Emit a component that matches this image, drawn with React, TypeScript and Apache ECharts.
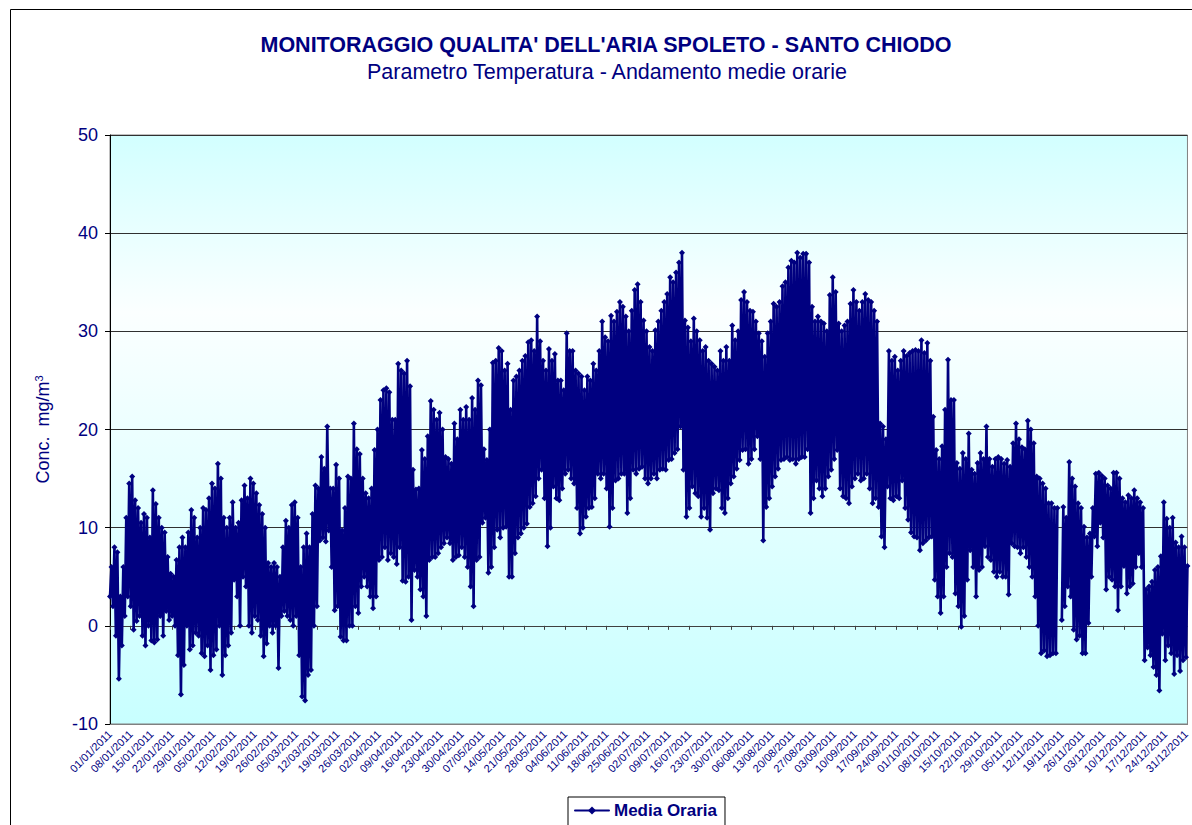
import React, { useEffect, useRef } from "react";
import * as echarts from "echarts";

// Daily minimum and maximum of the hourly temperature series (°C)
const DAILY_MAX: (number | null)[] = [
  6, 8, 7.5, 3, 6, 11, 14.5, 15.2, 12.8, 12,
  10.5, 11.4, 11, 9, 13.8, 12.4, 11, 10, 9.5, 7,
  5.3, 5, 6.7, 8, 9, 8, 9.5, 11.8, 11, 9,
  10, 12, 11.8, 13, 14.5, 14, 16.5, 15, 11, 10,
  11, 12.6, 10, 10.5, 12.8, 14.3, 13, 15, 14.5, 13.5,
  12.3, 11.4, 10, 6.4, 6, 6.4, 6, 5, 8, 10.7,
  10, 12.3, 12.6, 11, 6, 8, 9.4, 8, 11.4, 14.3,
  14, 17.2, 16, 20.3, 14, 14, 16.4, 15, 9.7, 12,
  15.2, 15, 20.6, 18, 17.5, 15, 13.5, 13, 14, 17.9,
  20, 23, 24, 24.2, 23.8, 21, 21, 26.7, 26, 25.7,
  27, 24.4, 15.9, 13.9, 14, 17.9, 17, 19.3, 22.9, 22,
  21, 21.7, 20, 17.2, 17, 16.5, 20.6, 19, 22, 21,
  22.3, 21, 23.2, 22, 25, 24.5, 18, 16.9, 20, 26.8,
  27, 28.3, 28, 26, 26.7, 22, 25, 25.4, 26, 27,
  27.5, 28.9, 29.1, 28, 31.5, 29, 27, 26, 28.2, 27,
  27.7, 25, 25, 24, 29.8, 28, 28, 26, 25.7, 25.4,
  24, 25.4, 25, 26.7, 26, 28, 31, 29.4, 29, 31.6,
  31, 32, 33, 32.5, 31.5, 30, 32.1, 34.2, 34.8, 33,
  31.1, 30, 28.4, 28, 30.1, 31, 32.1, 33, 33.8, 35.5,
  35, 36, 37, 38, 31.1, 30.4, 29, 31.3, 30, 29.1,
  28, 28.4, 27, 26.7, 26.4, 26, 28, 27, 28.4, 27,
  30.6, 29.1, 30, 33.2, 34, 33, 32.1, 32, 31, 29.8,
  29, 27.4, 29.8, 31, 32.8, 32.5, 33, 34.6, 35, 36.5,
  37.2, 37, 38, 37.5, 37.9, 37.9, 37, 32.5, 31, 31.5,
  31, 30.8, 30, 33.7, 35.5, 34, 30.8, 30, 30.6, 31,
  32.8, 34.2, 33, 32.1, 33, 33.8, 33.2, 33, 32.1, 31,
  20.6, 20.3, 19, 28, 27, 27.4, 26, 27, 28, 27.5,
  27.8, 28, 28.1, 28, 29.1, 27.8, 28.8, 27, 21.3, 17.9,
  17, 18.3, 22, 27.1, 23, 23, 16.6, 16, 17.6, 17,
  19.6, 15.9, 15.5, 16.6, 17.6, 17, 20.3, 17, 16.2, 17,
  17.2, 17, 16.5, 16.9, 16.2, 18.6, 20.6, 19, 18.2, 18,
  20.9, 20, 18.6, 15.2, 15, 14.5, 14, 12.5, 12.5, 12,
  12, null, 12.1, 11, 16.7, 15, 14.2, 12.5, 12, 10.1,
  9, 9.4, 12, 15.5, 15.6, 15.3, 15, 14.3, 14, 15.6,
  15.6, 15, 13, 12.6, 13.3, 13, 13.8, 13, 12.6, 12,
  3.7, 4, 4.5, 5.7, 6, 7.1, 12.6, 10.9, 10, 11,
  8.5, 8, 9.1, 8, 6.1,
];

const DAILY_MIN: (number | null)[] = [
  3, 2, -1, -5.4, -2, 1, 3, 2, -0.4, 0.5,
  1, -1, -2, 0, -1.5, -1.7, -1.4, 1, -1, 1.5,
  0.6, 1, 0, -3, -7, -4, 0, -2.4, -2, -0.7,
  -1, -2.8, -3.1, -2, -4.5, -3, -2.4, 0, -5, -3,
  -2, -0.7, 4.7, 3, 0, 5, 4, 0, -0.7, 1,
  0.6, -1, -3.1, -1.8, 0, -0.7, 0, -4.3, 1, 1.5,
  1, 0.6, 0, 1, -3, -7.2, -7.6, -5, -4.5, 0,
  2, 8.7, 9, 8.6, 9.7, 6, 1.6, 2, -1.1, -1.5,
  -1.5, 0, 0, 2, 1.3, 4, 5, 4, 3, 1.8,
  3, 6.7, 7, 8, 6.7, 7.4, 7, 6.3, 8, 4.6,
  4.5, 5, 0.6, 5.7, 5, 3.7, 3, 1, 6.7, 7,
  7, 7.4, 8, 8.4, 9, 8.4, 6.7, 7, 7.2, 8,
  7, 6, 4, 2, 6.7, 7, 10.5, 11, 5.4, 6,
  8, 9.8, 9, 10, 10.1, 5, 5, 7.4, 9, 9.4,
  10, 10.4, 12.1, 12.5, 13.2, 15, 15.9, 13, 8.1, 10,
  14.2, 13, 12.8, 14, 15.5, 15.9, 15, 14.5, 12, 9.4,
  10, 11.1, 12, 12.1, 13, 15.5, 15, 15.5, 14, 10.1,
  12, 14.8, 15, 15.5, 15.5, 11.5, 13, 15.9, 15.5, 16,
  16.2, 15, 14.5, 15, 15.5, 15, 15.9, 16, 15.9, 16.9,
  17, 17.6, 18, 20.3, 15.9, 11.1, 12, 14.2, 13.5, 13.2,
  11.1, 12, 11, 9.8, 13.5, 14, 13.8, 12, 11.5, 13,
  14.5, 15.2, 16, 16.9, 17.9, 18, 16.5, 17, 18, 19.3,
  17, 8.7, 12.1, 13, 14.2, 15.2, 16, 16.9, 17, 17.2,
  16.9, 17, 16.5, 17, 17.2, 17.2, 18, 11.5, 13, 14.8,
  14, 13.2, 14, 15.2, 15.9, 17, 17.9, 14, 13.2, 13,
  12.5, 14.2, 15, 15.5, 14.8, 15, 15.5, 14, 12.5, 13,
  12.1, 9.1, 8, 14.2, 13, 12.8, 13.2, 13, 14.8, 12,
  10.8, 9.5, 9.1, 9, 7.7, 8.4, 8.7, 9, 9.1, 4.7,
  3, 1.3, 3, 6, 7.4, 7, 3.3, 2, -0.1, 1,
  4.7, 7.7, 6, 3, 5.7, 6, 8.1, 7, 6.7, 5.5,
  5, 5.5, 5, 5, 3.2, 8.4, 8.1, 8, 7.4, 8,
  7, 6, 5, 3, 0, -2.8, -2.5, -3.1, -3, -2.8,
  -2.8, null, 0.6, 2, 4, 3, -0.4, -1.4, -1, -2.8,
  -2.8, 0.3, 5, 9.1, 8.1, 10.5, 9, 3.7, 5, 4.7,
  4, 1.6, 4, 6.1, 3.3, 4, 4.3, 6, 7.4, 6,
  -3.5, -2.2, -3, -4.2, -5, -6.6, -0.8, -3.5, -2, -2.8,
  -4.9, -3, -4.6, -3.5, -3.2,
];

const YEAR = 2011;
const MIN_HOUR = "06:00";
const MAX_HOUR = "15:00";
const TITLE = "MONITORAGGIO QUALITA' DELL'ARIA SPOLETO - SANTO CHIODO";
const SUBTITLE = "Parametro Temperatura - Andamento medie orarie";
const SERIES_NAME = "Media Oraria";

const NAVY = "#000080";
const FONT = "Arial, 'Liberation Sans', Helvetica, sans-serif";

function pad(n: number) {
  return n < 10 ? "0" + n : "" + n;
}

export default function App() {
  const ref = useRef<HTMLDivElement>(null);

  useEffect(() => {
    if (!ref.current) return;
    const chart = echarts.init(ref.current, null, { renderer: "svg" });

    const categories: string[] = [];
    const values: (number | null)[] = [];
    for (let i = 0; i < DAILY_MAX.length; i++) {
      const dt = new Date(YEAR, 0, 1 + i);
      const s = pad(dt.getDate()) + "/" + pad(dt.getMonth() + 1) + "/" + dt.getFullYear();
      categories.push(s + " " + MIN_HOUR, s + " " + MAX_HOUR);
      values.push(DAILY_MIN[i], DAILY_MAX[i]);
    }

    const bg = new echarts.graphic.LinearGradient(0, 0, 0, 1, [
      { offset: 0, color: "#d2ffff" },
      { offset: 0.3, color: "#fbffff" },
      { offset: 1, color: "#c8ffff" },
    ]);

    chart.setOption({
      animation: false,
      backgroundColor: "#ffffff",
      textStyle: { fontFamily: FONT },
      grid: {
        left: 110,
        right: 4,
        top: 135,
        bottom: 101,
        show: true,
        backgroundColor: bg,
        borderColor: "#808080",
        borderWidth: 1,
      },
      graphic: [
        {
          type: "rect",
          shape: { x: 10.5, y: 9.5, width: 1200, height: 830 },
          style: { fill: "none", stroke: "#000", lineWidth: 1 },
          silent: true,
        },
        {
          type: "text",
          x: 606,
          y: 45,
          style: {
            text: TITLE,
            fill: NAVY,
            font: "bold 21.5px " + FONT,
            textAlign: "center",
            textVerticalAlign: "middle",
          },
        },
        {
          type: "text",
          x: 607,
          y: 72,
          style: {
            text: SUBTITLE,
            fill: NAVY,
            font: "21.5px " + FONT,
            textAlign: "center",
            textVerticalAlign: "middle",
          },
        },
      ],
      legend: {
        data: [SERIES_NAME],
        left: 568,
        top: 797,
        borderColor: "#000",
        borderWidth: 1,
        padding: [5, 8, 8, 6],
        itemWidth: 34,
        itemHeight: 10,
        textStyle: { color: NAVY, fontWeight: "bold", fontSize: 17, fontFamily: FONT },
      },
      xAxis: [
        {
          type: "category",
          data: categories,
          boundaryGap: false,
          position: "bottom",
          axisLine: { onZero: false, lineStyle: { color: "#808080", width: 1 } },
          axisTick: { show: false },
          splitLine: { show: false },
          axisLabel: {
            interval: 13,
            rotate: 45,
            margin: 8,
            color: NAVY,
            fontSize: 11,
            fontFamily: FONT,
            formatter: (v: string) => v.slice(0, 10),
          },
        },
        {
          type: "category",
          data: categories,
          boundaryGap: false,
          position: "bottom",
          axisLine: { onZero: true, lineStyle: { color: "#404040", width: 1 } },
          axisTick: { show: true, interval: 13, length: 4, inside: false, lineStyle: { color: "#404040" } },
          axisLabel: { show: false },
          splitLine: { show: false },
        },
      ],
      yAxis: {
        type: "value",
        min: -10,
        max: 50,
        interval: 10,
        axisLine: { show: true, onZero: false, lineStyle: { color: "#000", width: 1 } },
        axisTick: { show: true, length: 5, inside: false, lineStyle: { color: "#000" } },
        splitLine: { show: true, lineStyle: { color: "#303030", width: 1 } },
        axisLabel: { color: NAVY, fontSize: 18, margin: 12, fontFamily: FONT },
        name: "Conc.  mg/m{sup|3}",
        nameLocation: "middle",
        nameRotate: 90,
        nameGap: 58,
        nameTextStyle: {
          color: NAVY,
          fontSize: 18,
          fontFamily: FONT,
          rich: {
            sup: { fontSize: 11, color: NAVY, verticalAlign: "top", padding: [0, 0, 8, 0] },
          },
        },
      },
      series: [
        {
          name: SERIES_NAME,
          type: "line",
          xAxisIndex: 0,
          data: values,
          showSymbol: true,
          showAllSymbol: true,
          symbol: "diamond",
          symbolSize: 6,
          connectNulls: false,
          itemStyle: { color: NAVY },
          lineStyle: { color: NAVY, width: 2.6, join: "round", cap: "round" },
        },
      ],
    });

    return () => chart.dispose();
  }, []);

  return (
    <div
      ref={ref}
      style={{ position: "fixed", left: 0, top: 0, width: 1192, height: 825 }}
    />
  );
}
